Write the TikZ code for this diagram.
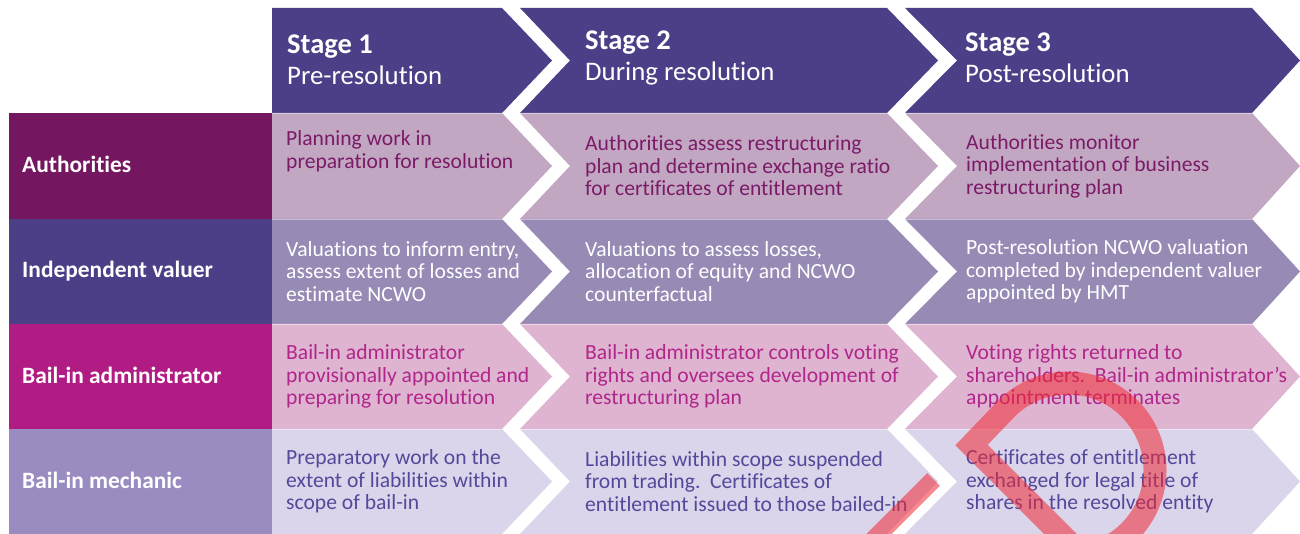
\documentclass[tikz,border=0pt]{standalone}
\usepackage{fontspec}
\setmainfont{Carlito}[Ligatures={NoCommon,NoRare,NoContextual}]
\definecolor{hdr}{RGB}{76,63,135}
\definecolor{authL}{RGB}{117,22,96}
\definecolor{authB}{RGB}{194,167,195}
\definecolor{authT}{RGB}{123,26,103}
\definecolor{ivL}{RGB}{76,63,135}
\definecolor{ivB}{RGB}{151,138,181}
\definecolor{baL}{RGB}{177,27,132}
\definecolor{baB}{RGB}{223,180,209}
\definecolor{baT}{RGB}{176,38,138}
\definecolor{bmL}{RGB}{154,140,192}
\definecolor{bmB}{RGB}{218,213,235}
\definecolor{bmT}{RGB}{85,72,154}
\definecolor{stamp}{RGB}{240,40,50}
\tikzset{
  bodytext/.style={anchor=west, align=left, inner sep=0pt, font=\fontsize{21.6}{22.5}\selectfont},
  labeltext/.style={anchor=base west, inner sep=0pt, text=white, font=\fontsize{23.4}{26}\selectfont\bfseries},
  headtext/.style={anchor=west, align=left, inner sep=0pt, text=white, font=\fontsize{26.8}{31}\selectfont},
  rowline/.style={white, opacity=0.45, line width=0.8pt},
  stampline/.style={stamp, opacity=0.55, line cap=butt, line join=miter},
}
\newcommand\stagehead[1]{{\fontsize{28.5}{31}\selectfont\bfseries #1}}
\newcommand\chevrow[3]{%
  \pgfmathsetmacro\midy{(#1+#2)/2}
  \fill[#3] (272,#1) -- (502,#1) -- (552,\midy) -- (502,#2) -- (272,#2) -- cycle;
  \fill[#3] (520,#1) -- (887,#1) -- (938,\midy) -- (887,#2) -- (520,#2) -- (570,\midy) -- cycle;
  \fill[#3] (905,#1) -- (1252,#1) -- (1300,\midy) -- (1252,#2) -- (905,#2) -- (957,\midy) -- cycle;
}
\begin{document}
\begin{tikzpicture}[x=1pt,y=-1pt]
\useasboundingbox (0,0) rectangle (1300,534);
\fill[white] (0,0) rectangle (1300,534);
% header
\chevrow{8}{113}{hdr}
% rows
\chevrow{113}{219}{authB}
\chevrow{219}{324}{ivB}
\chevrow{324}{429}{baB}
\chevrow{429}{534}{bmB}
% label cells
\fill[authL] (9,113) rectangle (272,219);
\fill[ivL] (9,219) rectangle (272,324);
\fill[baL] (9,324) rectangle (272,429);
\fill[bmL] (9,429) rectangle (272,534);
% faint row separators
\foreach \yy in {113,219,324,429} {
  \draw[rowline] (272,\yy) -- (1252,\yy);
}
% header texts
\node[headtext] (h1) at (287,60) {\stagehead{Stage 1}\\Pre-resolution};
\node[headtext] (h2) at (585,58) {\stagehead{Stage 2}\\During resolution};
\node[headtext] (h3) at (965,58) {\stagehead{Stage 3}\\Post-resolution};
% labels
\node[labeltext] (lauth) at (22,172.5) {Authorities};
\node[labeltext] (liv) at (22,277.5) {Independent valuer};
\node[labeltext] (lba) at (22,383) {Bail-in administrator};
\node[labeltext] (lbm) at (22,488) {Bail-in mechanic};
% row 1
\node[bodytext, text=authT] (a1) at (286,151) {Planning work in\\preparation for resolution};
\node[bodytext, text=authT] (a2) at (585,166) {Authorities assess restructuring\\plan and determine exchange ratio\\for certificates of entitlement};
\node[bodytext, text=authT] (a3) at (966,166) {Authorities monitor\\implementation of business\\restructuring plan};
% row 2
\node[bodytext, text=white] (v1) at (286,271.5) {Valuations to inform entry,\\assess extent of losses and\\estimate NCWO};
\node[bodytext, text=white] (v2) at (585,271.5) {Valuations to assess losses,\\allocation of equity and NCWO\\counterfactual};
\node[bodytext, text=white] (v3) at (966,271.5) {Post-resolution NCWO valuation\\completed by independent valuer\\appointed by HMT};
% row 3
\node[bodytext, text=baT] (b1) at (286,376.5) {Bail-in administrator\\provisionally appointed and\\preparing for resolution};
\node[bodytext, text=baT] (b2) at (585,376.5) {Bail-in administrator controls voting\\rights and oversees development of\\restructuring plan};
\node[bodytext, text=baT] (b3) at (966,376.5) {Voting rights returned to\\shareholders.\ \ Bail-in administrator’s\\appointment terminates};
% row 4
\node[bodytext, text=bmT] (m1) at (286,481.5) {Preparatory work on the\\extent of liabilities within\\scope of bail-in};
\node[bodytext, text=bmT] (m2) at (585,481.5) {Liabilities within scope suspended\\from trading.\ \ Certificates of\\entitlement issued to those bailed-in};
\node[bodytext, text=bmT] (m3) at (966,481.5) {Certificates of entitlement\\exchanged for legal title of\\shares in the resolved entity};
% stamp overlay
\begin{scope}
  \clip (0,0) rectangle (1300,534);
  \draw[stampline, line width=23pt] (1090,563.5) -- (971.5,445) -- (1006.5,408.5) arc[start angle=225, end angle=425, radius=87];
  \draw[stampline, line width=18pt] (933.5,479.5) -- (860,553);
\end{scope}
\end{tikzpicture}
\end{document}
